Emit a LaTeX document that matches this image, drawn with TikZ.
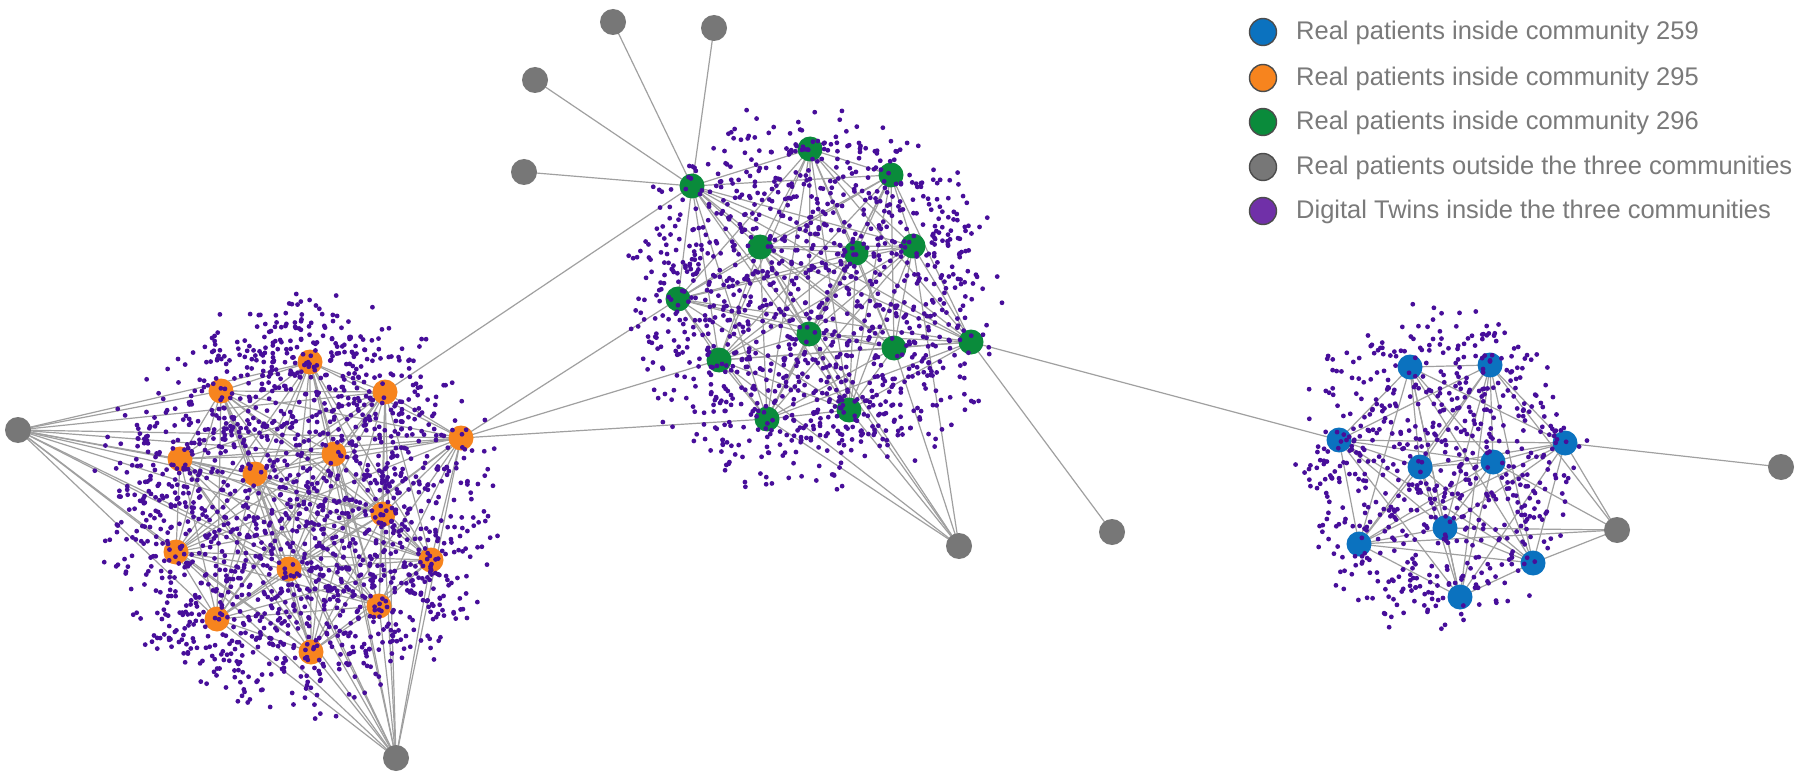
\documentclass[tikz,border=0pt]{standalone}
\usepackage{fontspec}
\setmainfont{Liberation Sans}
\definecolor{cblue}{HTML}{0B72BF}
\definecolor{corange}{HTML}{F7841E}
\definecolor{cgreen}{HTML}{0A8B3B}
\definecolor{cgray}{HTML}{777777}
\definecolor{cdot}{HTML}{470E9A}
\definecolor{clpurple}{HTML}{7030A8}
\definecolor{cedge}{HTML}{A0A0A0}
\definecolor{ctext}{HTML}{7A7A7A}
\newcommand{\dtcloud}[5]{%
  \foreach \k in {1,...,#5}{%
    \pgfmathsetmacro{\aa}{360*rnd}%
    \pgfmathsetmacro{\rr}{sqrt(rnd)*(0.82+0.3*rnd)}%
    \fill[cdot] ({#1+#3*\rr*cos(\aa)},{#2+#4*\rr*sin(\aa)}) circle (2.4pt);
  }}
\begin{document}
\begin{tikzpicture}[x=1pt,y=-1pt,
  rp/.style={circle,inner sep=0pt,minimum size=25pt},
  og/.style={rp,fill=corange},
  gg/.style={rp,fill=cgreen},
  bg/.style={rp,fill=cblue},
  xg/.style={rp,fill=cgray,minimum size=26pt},
  edge/.style={draw=cedge,line width=1.2pt},
  legdot/.style={circle,inner sep=0pt,minimum size=27pt,draw=black!70,line width=1.4pt},
  legtext/.style={anchor=base west,inner sep=0pt,text=ctext,font=\fontsize{25.5}{30}\selectfont}]
\useasboundingbox (0,0) rectangle (1800,778);
\fill[white] (0,0) rectangle (1800,778);
% node positions
\foreach \n/\x/\y in {1/310/362,2/221/391,3/385/392,4/461/438,5/180/459,6/334/454,7/255/474,8/383/514,9/176/552,10/289/569,11/431/560,12/379/606,13/217/619,14/311/652}
  \coordinate (o\n) at (\x,\y);
\foreach \n/\x/\y in {1/692/186,2/810/149,3/891/175,4/760/247,5/856/253,6/913/246,7/678/299,8/809/334,9/894/348,10/971/342,11/719/360,12/849/410,13/767/419}
  \coordinate (g\n) at (\x,\y);
\foreach \n/\x/\y in {1/1410/367,2/1490/365,3/1339/440,4/1565/443,5/1420/467,6/1493/462,7/1445/528,8/1359/544,9/1533/563,10/1460/597}
  \coordinate (b\n) at (\x,\y);
\foreach \n/\x/\y in {1/18/430,2/396/758,3/613/22,4/714/28,5/535/80,6/524/172,7/959/546,8/1112/532,9/1617/530,10/1781/467}
  \coordinate (x\n) at (\x,\y);
% edges inside communities
\foreach \i in {1,...,14}{\foreach \j in {1,...,14}{\ifnum\i<\j \draw[edge] (o\i) -- (o\j);\fi}}
\foreach \i in {1,...,13}{\foreach \j in {1,...,13}{\ifnum\i<\j \draw[edge] (g\i) -- (g\j);\fi}}
\foreach \i in {1,...,10}{\foreach \j in {1,...,10}{\ifnum\i<\j \draw[edge] (b\i) -- (b\j);\fi}}
% edges to outside
\foreach \i in {1,...,14}{\draw[edge] (x1) -- (o\i); \draw[edge] (x2) -- (o\i);}
\draw[edge] (o3) -- (g1);
\foreach \j in {7,11,13}{\draw[edge] (o4) -- (g\j);}
\foreach \j in {3,4,5,6}{\draw[edge] (g1) -- (x\j);}
\foreach \j in {4,6,8,9,11,12,13}{\draw[edge] (x7) -- (g\j);}
\draw[edge] (g10) -- (x8);
\draw[edge] (g10) -- (b3);
\foreach \j in {2,4,6,7,8,9}{\draw[edge] (x9) -- (b\j);}
\draw[edge] (b4) -- (x10);
% real patient nodes
\foreach \n in {1,...,14}{\node[og] (O\n) at (o\n) {};}
\foreach \n in {1,...,13}{\node[gg] (G\n) at (g\n) {};}
\foreach \n in {1,...,10}{\node[bg] (B\n) at (b\n) {};}
\foreach \n in {1,...,10}{\node[xg] (X\n) at (x\n) {};}
% digital twins
\pgfmathsetseed{2718}
\dtcloud{298}{505}{188}{198}{1750}
\dtcloud{812}{300}{176}{186}{1250}
\dtcloud{1437}{470}{140}{156}{680}
% legend
\foreach \i/\c/\y/\t in {1/cblue/32/Real patients inside community 259,
                        2/corange/78/Real patients inside community 295,
                        3/cgreen/122/Real patients inside community 296,
                        4/cgray/167/Real patients outside the three communities,
                        5/clpurple/211/Digital Twins inside the three communities}{
  \node[legdot,fill=\c] (L\i) at (1263,\y) {};
  \node[legtext] (T\i) at (1296,\y+8) {\t};
}
\end{tikzpicture}
\end{document}
